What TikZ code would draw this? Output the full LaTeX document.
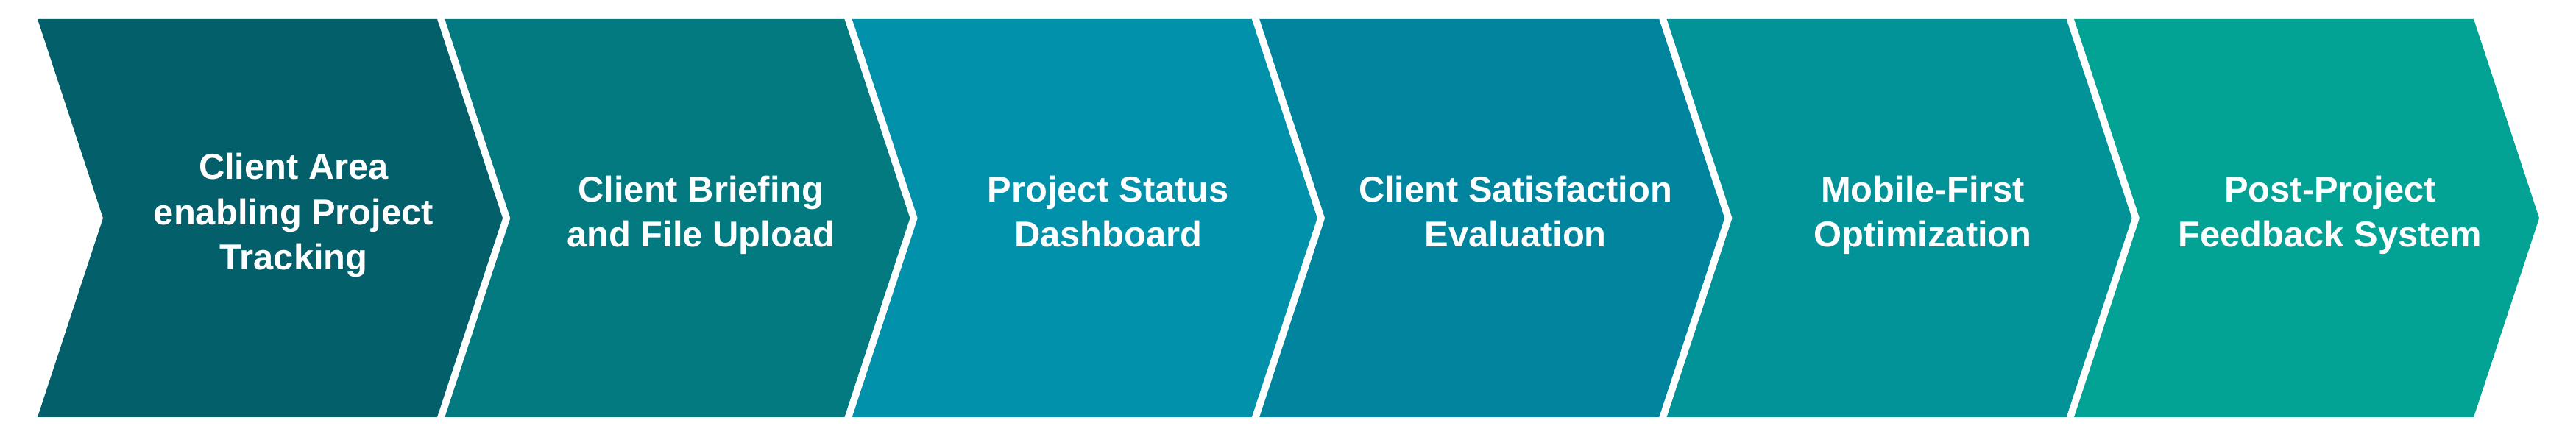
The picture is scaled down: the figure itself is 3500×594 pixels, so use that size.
\documentclass[tikz,border=0pt]{standalone}
\usepackage{fontspec}
\setsansfont{Liberation Sans}
\usepackage{xcolor}
\usepackage{tikz}
\usetikzlibrary{positioning}
\definecolor{chvdeep}{HTML}{03606B}
\definecolor{chvteal}{HTML}{037A80}
\definecolor{chvcyan}{HTML}{0291AB}
\definecolor{chvblue}{HTML}{01859F}
\definecolor{chvsea}{HTML}{019397}
\definecolor{chvmint}{HTML}{02A294}
\begin{document}
\begin{tikzpicture}[x=0.1mm, y=0.1mm,
  lbl/.style={font=\sffamily\bfseries\fontsize{13.9}{17.4}\selectfont, text=white, align=center, inner sep=0pt,
    execute at begin node=\strut, execute at end node=\strut}]
  \useasboundingbox (0,0) rectangle (3500,594);
  % ---------- chevrons ----------
  \foreach \i/\c/\n/\t in {0/chvdeep/area/{Client Area\\enabling Project\\Tracking},
      1/chvteal/brief/{Client Briefing\\and File Upload},
      2/chvcyan/status/{Project Status\\Dashboard},
      3/chvblue/satis/{Client Satisfaction\\Evaluation},
      4/chvsea/mobile/{Mobile-First\\Optimization},
      5/chvmint/feedback/{Post-Project\\Feedback System}}
  {
    \pgfmathsetmacro{\xl}{51+553.4*\i}
    \fill[\c] (\xl,568) -- ++(543,0) -- ++(89,-270.5) -- ++(-89,-270.5) -- ++(-543,0) -- ++(89,270.5) -- cycle;
    \node[lbl] (\n) at (\xl+348,297.5) {\t};
  }
\end{tikzpicture}
\end{document}
